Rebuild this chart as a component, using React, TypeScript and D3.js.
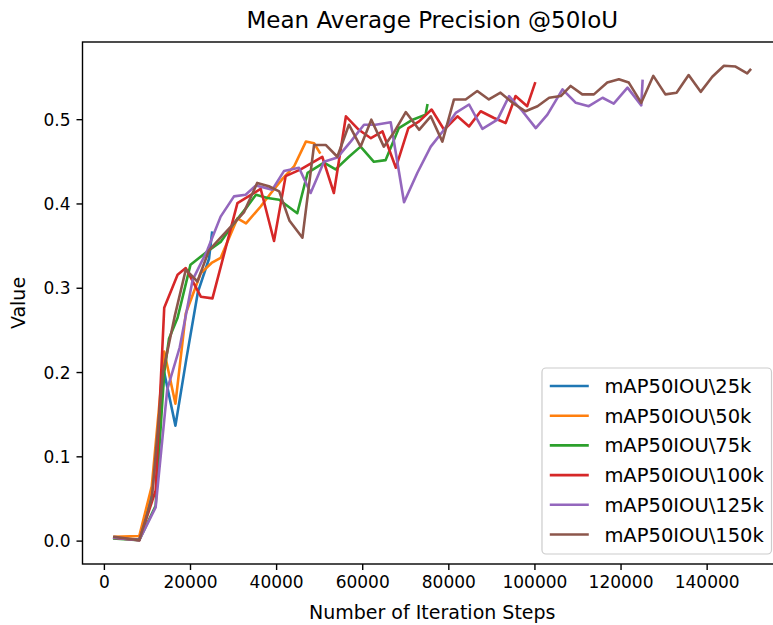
import React from 'react';
import * as d3 from 'd3';

const seriesNames = ['mAP50IOU\\25k', 'mAP50IOU\\50k', 'mAP50IOU\\75k', 'mAP50IOU\\100k', 'mAP50IOU\\125k', 'mAP50IOU\\150k'];
const seriesColors = ['#1f77b4', '#ff7f0e', '#2ca02c', '#d62728', '#9467bd', '#8c564b'];

const steps25k = [2300, 8100, 11000, 13900, 16500, 19000, 21700, 24300, 25000];
const map25k = [0.004, 0.002, 0.055, 0.200, 0.137, 0.215, 0.295, 0.335, 0.366];

const steps50k = [2300, 8100, 11000, 13900, 16500, 18900, 22400, 24900, 27000, 30900, 32900, 36300, 38700, 41400, 44100, 46800, 48700, 50000];
const map50k = [0.005, 0.006, 0.065, 0.225, 0.163, 0.270, 0.318, 0.330, 0.336, 0.383, 0.377, 0.397, 0.413, 0.430, 0.445, 0.474, 0.472, 0.461];

const steps75k = [2300, 8100, 11900, 13900, 15000, 17000, 20000, 24000, 27000, 30100, 32900, 35200, 37900, 40600, 44800, 47200, 51000, 53700, 56800, 59500, 62600, 65300, 68400, 71600, 74600, 75000];
const map75k = [0.003, 0.001, 0.042, 0.200, 0.240, 0.265, 0.328, 0.344, 0.355, 0.377, 0.395, 0.411, 0.407, 0.405, 0.389, 0.437, 0.449, 0.441, 0.456, 0.468, 0.450, 0.452, 0.490, 0.500, 0.506, 0.517];

const steps100k = [2300, 8100, 11900, 13900, 17000, 18900, 22400, 25100, 30900, 36300, 39400, 42100, 45600, 50600, 53300, 56100, 59100, 61900, 64600, 67700, 70600, 73100, 76000, 78900, 82000, 84700, 87400, 90500, 93200, 95500, 98200, 100000];
const map100k = [0.004, 0.001, 0.060, 0.277, 0.316, 0.324, 0.290, 0.288, 0.401, 0.418, 0.356, 0.433, 0.441, 0.456, 0.413, 0.504, 0.488, 0.478, 0.486, 0.443, 0.490, 0.498, 0.512, 0.488, 0.504, 0.492, 0.510, 0.502, 0.496, 0.528, 0.516, 0.543];

const steps125k = [2300, 8100, 11900, 14600, 17500, 20500, 23900, 27000, 30100, 32800, 35200, 39000, 41700, 45200, 47900, 51000, 54100, 57200, 60300, 63000, 66500, 69600, 72700, 75800, 78900, 81600, 84700, 87800, 91300, 94000, 97100, 100200, 102900, 106400, 109500, 112500, 115700, 118300, 121500, 124700, 125000];
const map125k = [0.004, 0.001, 0.040, 0.180, 0.230, 0.310, 0.345, 0.385, 0.409, 0.411, 0.422, 0.417, 0.439, 0.443, 0.413, 0.450, 0.455, 0.474, 0.494, 0.494, 0.497, 0.402, 0.437, 0.468, 0.488, 0.508, 0.518, 0.489, 0.500, 0.528, 0.510, 0.490, 0.506, 0.536, 0.520, 0.516, 0.526, 0.519, 0.538, 0.517, 0.546];

const steps150k = [2300, 8100, 11000, 13600, 16300, 18900, 21600, 24300, 27000, 29700, 32400, 35500, 38200, 40600, 43000, 46000, 48700, 51400, 54100, 56800, 59500, 62000, 64900, 67400, 70000, 73100, 75800, 78500, 81200, 83900, 86600, 89300, 92000, 94800, 97800, 100600, 103300, 106000, 108300, 111000, 113700, 116800, 119500, 121800, 124700, 127500, 130300, 132900, 135700, 138500, 141200, 143900, 146600, 149300, 150000];
const map150k = [0.005, 0.001, 0.050, 0.200, 0.266, 0.322, 0.308, 0.345, 0.360, 0.375, 0.390, 0.425, 0.421, 0.415, 0.380, 0.360, 0.470, 0.470, 0.456, 0.494, 0.468, 0.500, 0.468, 0.486, 0.509, 0.488, 0.504, 0.474, 0.524, 0.524, 0.534, 0.524, 0.532, 0.520, 0.510, 0.516, 0.526, 0.528, 0.540, 0.530, 0.530, 0.544, 0.548, 0.544, 0.520, 0.552, 0.530, 0.532, 0.553, 0.533, 0.551, 0.564, 0.563, 0.555, 0.559];

const xTicks = [0, 20000, 40000, 60000, 80000, 100000, 120000, 140000];
const yTicks = [0.0, 0.1, 0.2, 0.3, 0.4, 0.5];

const titleText = 'Mean Average Precision @50IoU';
const xLabelText = 'Number of Iteration Steps';
const yLabelText = 'Value';

const W = 773;
const H = 625;
const M = { left: 82.5, right: 782, top: 42, bottom: 564 };
const FONT = '"DejaVu Sans", sans-serif';
const TICK_FS = 17;
const LABEL_FS = 19;
const TITLE_FS = 23;
const LEG_FS = 19.5;

export default function App() {
  const allSteps = [steps25k, steps50k, steps75k, steps100k, steps125k, steps150k];
  const allVals = [map25k, map50k, map75k, map100k, map125k, map150k];

  const xmin = d3.min(allSteps.flat()) as number;
  const xmax = d3.max(allSteps.flat()) as number;
  const ymin = d3.min(allVals.flat()) as number;
  const ymax = d3.max(allVals.flat()) as number;
  const xm = (xmax - xmin) * 0.05;
  const ym = (ymax - ymin) * 0.05;

  const x = d3.scaleLinear().domain([xmin - xm, xmax + xm]).range([M.left, M.right]);
  const y = d3.scaleLinear().domain([ymin - ym, ymax + ym]).range([M.bottom, M.top]);

  const line = d3.line<[number, number]>().x(d => x(d[0])).y(d => y(d[1]));

  const legRight = 771.5;
  const legBottom = 554;
  const rowStep = 29.7;
  const legW = 11.77 * LEG_FS;
  const legH = 186;
  const legLeft = legRight - legW;
  const legTop = legBottom - legH;

  const tickLen = 6;
  const lw = 2.6;

  return (
    <svg width={W} height={H} style={{ position: 'absolute', left: 0, top: 0, background: '#fff' }} fontFamily={FONT}>
      <rect x={0} y={0} width={W} height={H} fill="#fff" />
      <defs>
        <clipPath id="plotclip">
          <rect x={M.left} y={M.top} width={M.right - M.left} height={M.bottom - M.top} />
        </clipPath>
      </defs>
      <g clipPath="url(#plotclip)">
        {allSteps.map((st, i) => (
          <path
            key={i}
            d={line(st.map((s, j) => [s, allVals[i][j]] as [number, number])) || ''}
            fill="none"
            stroke={seriesColors[i]}
            strokeWidth={lw}
            strokeLinejoin="round"
            strokeLinecap="square"
          />
        ))}
      </g>
      <rect x={M.left} y={M.top} width={M.right - M.left} height={M.bottom - M.top} fill="none" stroke="#000" strokeWidth={1.4} />
      {xTicks.map(t => (
        <g key={'x' + t}>
          <line x1={x(t)} x2={x(t)} y1={M.bottom} y2={M.bottom + tickLen} stroke="#000" strokeWidth={1.4} />
          <text x={x(t)} y={M.bottom + tickLen + 5 + TICK_FS * 0.76} textAnchor="middle" fontSize={TICK_FS} fill="#000">
            {d3.format('d')(t)}
          </text>
        </g>
      ))}
      {yTicks.map(t => (
        <g key={'y' + t}>
          <line x1={M.left - tickLen} x2={M.left} y1={y(t)} y2={y(t)} stroke="#000" strokeWidth={1.4} />
          <text x={M.left - tickLen - 6} y={y(t)} dy="0.36em" textAnchor="end" fontSize={TICK_FS} fill="#000">
            {d3.format('.1f')(t)}
          </text>
        </g>
      ))}
      <text x={(M.left + M.right) / 2} y={28} textAnchor="middle" fontSize={TITLE_FS} fill="#000">{titleText}</text>
      <text x={(M.left + M.right) / 2} y={619} textAnchor="middle" fontSize={LABEL_FS} fill="#000">{xLabelText}</text>
      <text transform={`translate(25,${(M.top + M.bottom) / 2}) rotate(-90)`} textAnchor="middle" fontSize={LABEL_FS} fill="#000">{yLabelText}</text>
      <g>
        <rect x={legLeft} y={legTop} width={legW} height={legH} rx={4} fill="#fff" fillOpacity={0.8} stroke="#cccccc" strokeWidth={1.2} />
        {seriesNames.map((n, i) => {
          const cy = legTop + 18 + i * rowStep;
          return (
            <g key={n}>
              <line x1={legLeft + 0.4 * LEG_FS} x2={legLeft + 2.4 * LEG_FS} y1={cy} y2={cy} stroke={seriesColors[i]} strokeWidth={lw} />
              <text x={legLeft + 3.2 * LEG_FS} y={cy} dy="0.36em" fontSize={LEG_FS} fill="#000">{n}</text>
            </g>
          );
        })}
      </g>
    </svg>
  );
}
